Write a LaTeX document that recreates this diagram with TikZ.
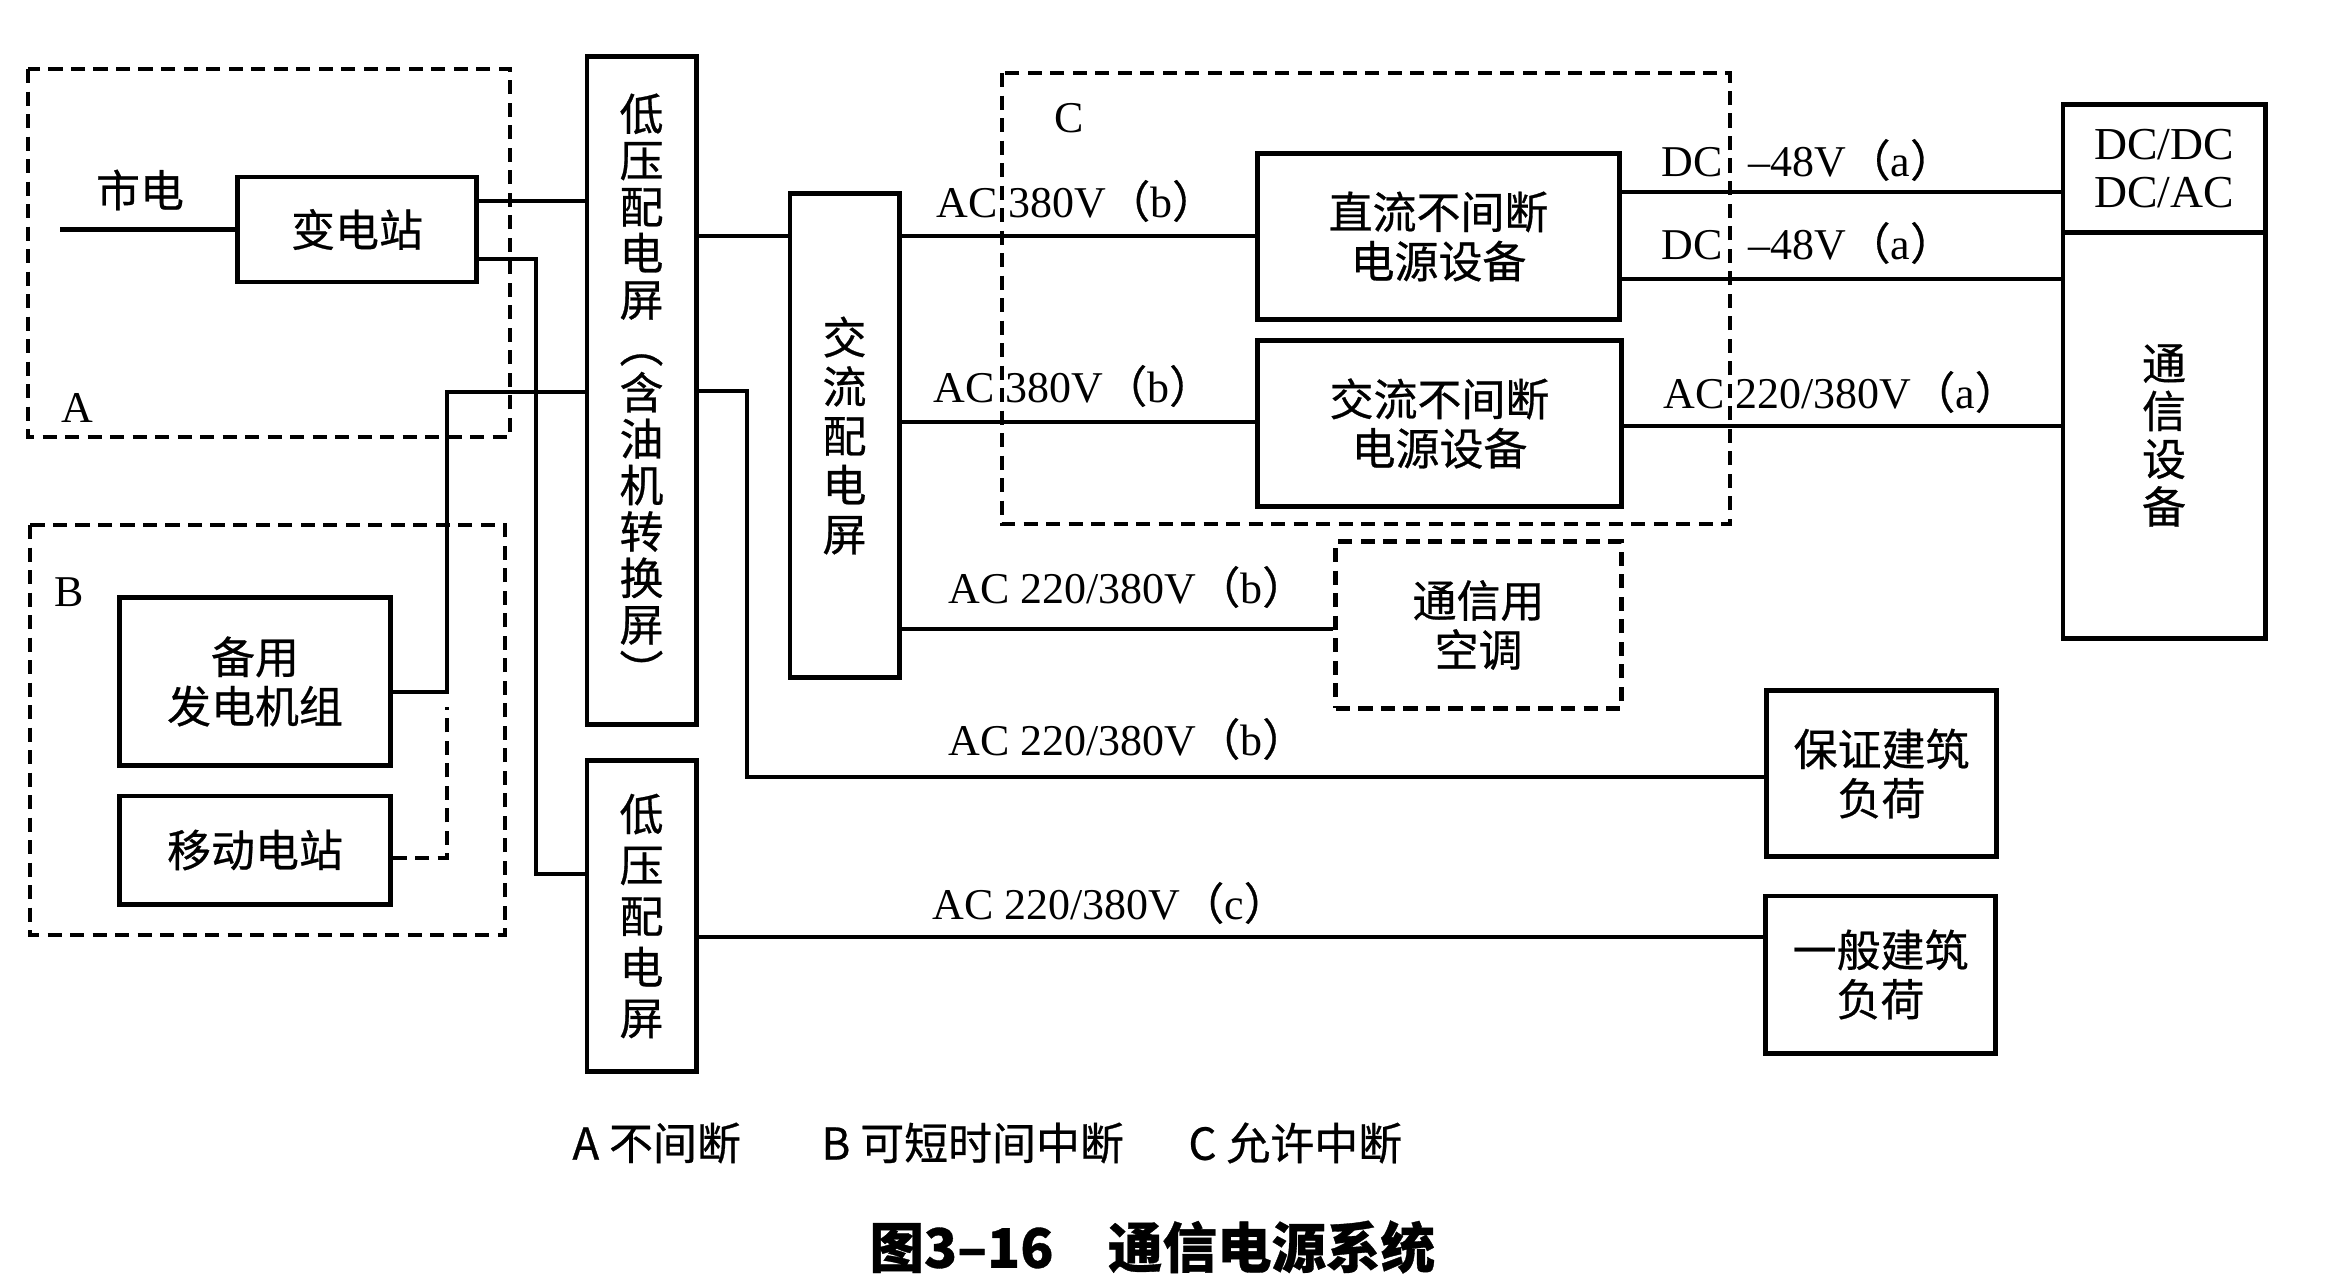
\documentclass[tikz,border=0pt]{standalone}
\usepackage{fontspec}
\setmainfont{Liberation Serif}
\newfontfamily\cjk{Noto Sans CJK SC}[FakeBold=0.6]
\newcommand{\zkl}{{\cjk （}}
\newcommand{\zkr}{{\cjk ）}}

\begin{document}
\begin{tikzpicture}[x=0.01cm, y=-0.01cm, line width=1.4pt,
	box/.style={draw, inner sep=0pt, align=center, font=\cjk\fontsize{12.5}{14}\selectfont},
	dbox/.style={box, dash pattern=on 4pt off 2.4pt},
	lbl/.style={inner sep=0pt, font=\fontsize{12.5}{14}\selectfont},
	ctxt/.style={inner sep=0pt, font=\cjk\fontsize{12.5}{14}\selectfont}]
	\useasboundingbox (0,0) rectangle (2327,1279);
	
	% dashed regions A, B, C
	\draw[dash pattern=on 4pt off 2.4pt] (28,69) rectangle (510,437);
	\draw[dash pattern=on 4pt off 2.4pt] (30,525) rectangle (505,935);
	\draw[dash pattern=on 4pt off 2.4pt] (1002,73) rectangle (1730,524);
	\node[lbl] (la) at (77,408) {A};
	\node[lbl] (lb) at (69,592) {B};
	\node[lbl] (lc) at (1069,118) {C};
	
	\node[ctxt] (sd) at (140,190) {市电};
	\node[box, minimum width=2.38cm, minimum height=1.05cm] (bdz) at (357,229.5) {变电站};
	\node[box, minimum width=2.70cm, minimum height=1.67cm] (gen) at (255,681.5) {备用\\发电机组};
	\node[box, minimum width=2.70cm, minimum height=1.08cm] (mob) at (255,850) {移动电站};
	
	\node[box, minimum width=1.09cm, minimum height=6.67cm, font=\cjk\fontsize{12.5}{13.2}\selectfont] (lv1) at (641.5,390.5)
	{低\\压\\配\\电\\屏\\︵\\含\\油\\机\\转\\换\\屏\\︶};
	\node[box, minimum width=1.09cm, minimum height=3.10cm, font=\cjk\fontsize{12.5}{14.5}\selectfont] (lv2) at (641.5,916)
	{低\\压\\配\\电\\屏};
	\node[box, minimum width=1.09cm, minimum height=4.83cm] (acp) at (844.5,435.5) {交\\流\\配\\电\\屏};
	
	\node[box, minimum width=3.61cm, minimum height=1.65cm] (dcups) at (1438.5,236.5) {直流不间断\\电源设备};
	\node[box, minimum width=3.63cm, minimum height=1.65cm] (acups) at (1439.5,423.5) {交流不间断\\电源设备};
	\node[dbox, minimum width=2.85cm, minimum height=1.66cm] (ac) at (1478.5,625) {通信用\\空调};
	\node[box, minimum width=2.29cm, minimum height=1.65cm] (bz) at (1881.5,773.5) {保证建筑\\负荷};
	\node[box, minimum width=2.29cm, minimum height=1.57cm] (yb) at (1880.5,974.5) {一般建筑\\负荷};
	
	\node[box, minimum width=2.02cm, minimum height=1.28cm, font=\fontsize{13}{13.6}\selectfont] (conv) at (2164,169) {DC/DC\\DC/AC};
	\node[box, minimum width=2.02cm, minimum height=4.05cm, font=\cjk\fontsize{12.5}{13.6}\selectfont] (txsb) at (2164,435.5) {通\\信\\设\\备};
	
	% bend points
	\coordinate (sdin) at (60,229.5);
	\coordinate (tap2) at (536,874);
	\coordinate (genup) at (447,392);
	\coordinate (mobtop) at (447,707);
	\coordinate (bzdown) at (747,777);
	
	\draw (sdin) -- (bdz.west);
	\draw (bdz.east |- 0,201) -- (lv1.west |- 0,201);
	\draw (bdz.east |- 0,259) -| (tap2) -- (lv2.west |- tap2);
	\draw (gen.east |- 0,692) -| (genup) -- (lv1.west |- genup);
	\draw[dash pattern=on 4pt off 2.4pt] (mob.east |- 0,858) -| (mobtop);
	\draw (lv1.east |- 0,236) -- (acp.west |- 0,236);
	\draw (lv1.east |- 0,391) -| (bzdown) -- (bz.west |- bzdown);
	\draw (acp.east |- 0,236) -- (dcups.west |- 0,236);
	\draw (acp.east |- 0,422) -- (acups.west |- 0,422);
	\draw (acp.east |- 0,629) -- (ac.west |- 0,629);
	\draw (lv2.east |- 0,937) -- (yb.west |- 0,937);
	\draw (dcups.east |- 0,192) -- (conv.west |- 0,192);
	\draw (dcups.east |- 0,279) -- (txsb.west |- 0,279);
	\draw (acups.east |- 0,426) -- (txsb.west |- 0,426);
	
	\node[lbl, anchor=west] (v1) at (934,201) {AC 380V\zkl b\zkr};
	\node[lbl, anchor=west] (v2) at (931,386) {AC 380V\zkl b\zkr};
	\node[lbl, anchor=west] (v3) at (946,587) {AC 220/380V\zkl b\zkr};
	\node[lbl, anchor=west] (v4) at (946,739) {AC 220/380V\zkl b\zkr};
	\node[lbl, anchor=west] (v5) at (930,903) {AC 220/380V\zkl c\zkr};
	\node[lbl, anchor=west] (v6) at (1659,160) {DC\hspace{0.6em}–48V\zkl a\zkr};
	\node[lbl, anchor=west] (v7) at (1659,243) {DC\hspace{0.6em}–48V\zkl a\zkr};
	\node[lbl, anchor=west] (v8) at (1661,392) {AC 220/380V\zkl a\zkr};
	
	\node[ctxt, anchor=west] (lega) at (570,1143) {A 不间断};
	\node[ctxt, anchor=west] (legb) at (819,1143) {B 可短时间中断};
	\node[ctxt, anchor=west] (legc) at (1186,1143) {C 允许中断};
	\node[inner sep=0pt, anchor=west, font=\cjk\bfseries\fontsize{15.5}{18}\selectfont] (cap) at (867,1247) {图3–16\hspace{1em}通信电源系统};
\end{tikzpicture}
\end{document}
